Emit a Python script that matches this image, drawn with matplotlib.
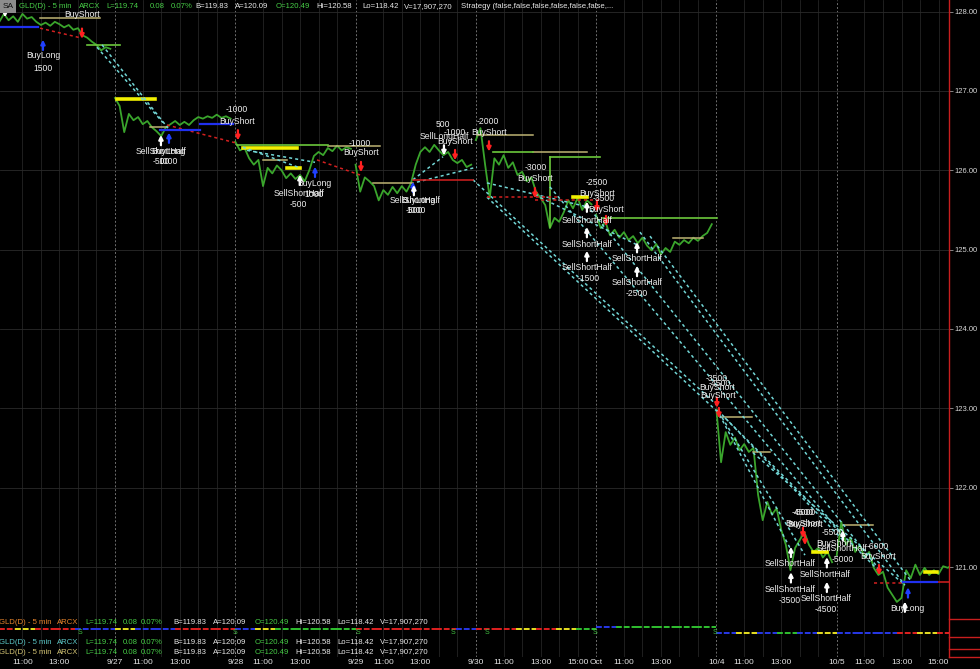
import matplotlib
matplotlib.use("Agg")
import matplotlib.pyplot as plt
from matplotlib.lines import Line2D
from matplotlib.patches import Rectangle

plt.rcParams['font.family'] = ['Liberation Sans', 'DejaVu Sans']

W, H = 980, 669
BARS = 78      # 5 min bars per session (9:30 - 16:00)
STEP = 3       # one close kept every 3 bars

# --- price data: GLD 5 min, one close every 15 min -------------------------
day_names = ['9/26', '9/27', '9/28', '9/29', '9/30', 'Oct', '10/4', '10/5']
close_0926 = [127.96, 127.87, 127.97, 127.89, 127.94, 127.87, 127.97, 127.91, 127.93, 127.87, 127.83, 127.86, 127.82,
              127.87, 127.84, 127.80, 127.83, 127.77, 127.79, 127.70, 127.67, 127.62, 127.58, 127.51, 127.55, 127.53]
close_0927 = [126.91, 126.81, 126.48, 126.71, 126.63, 126.67, 126.58, 126.62, 126.54, 126.49, 126.43, 126.54, 126.58,
              126.62, 126.57, 126.61, 126.57, 126.63, 126.67, 126.65, 126.68, 126.66, 126.70, 126.66, 126.68, 126.65]
close_0928 = [126.36, 126.25, 126.28, 126.15, 126.07, 126.13, 125.80, 126.03, 125.96, 126.06, 126.00, 125.90, 125.96,
              125.89, 125.94, 125.86, 126.00, 126.18, 126.23, 126.19, 126.28, 126.24, 126.31, 126.25, 126.29, 126.27]
close_0929 = [126.07, 125.73, 125.91, 125.86, 125.80, 125.62, 125.75, 125.69, 125.79, 125.71, 125.80, 125.73, 125.84,
              126.07, 126.23, 126.29, 126.23, 126.32, 126.25, 126.19, 126.23, 126.13, 126.09, 126.13, 126.04, 126.07]
close_0930 = [126.38, 126.53, 126.07, 125.65, 126.15, 126.07, 126.19, 126.03, 126.10, 125.94, 125.98, 125.86, 125.91,
              125.73, 125.65, 125.56, 125.27, 125.40, 125.35, 125.47, 125.62, 125.52, 125.65, 125.50, 125.62, 125.57]
close_1003 = [125.44, 125.27, 125.35, 125.18, 125.25, 125.15, 125.22, 125.12, 125.17, 125.08, 125.15, 125.05, 124.99,
              125.07, 124.94, 125.02, 124.97, 125.10, 125.06, 125.12, 125.08, 125.15, 125.11, 125.17, 125.21, 125.32]
close_1004 = [122.98, 122.32, 122.70, 122.54, 122.63, 122.47, 122.55, 122.45, 122.50, 121.91, 121.59, 121.82, 121.66,
              121.74, 121.47, 121.28, 120.96, 121.24, 121.34, 121.44, 121.28, 121.19, 121.24, 121.12, 121.19, 121.06]
close_1005 = [121.15, 121.57, 121.28, 121.37, 121.19, 121.28, 121.12, 121.19, 120.99, 120.90, 120.94, 120.74, 120.65,
              120.56, 120.61, 120.96, 120.86, 121.03, 120.90, 120.99, 120.90, 120.96, 120.91, 121.01, 120.99, 121.03]
sessions = [close_0926, close_0927, close_0928, close_0929, close_0930, close_1003, close_1004, close_1005]

price_ticks = [121, 122, 123, 124, 125, 126, 127, 128]

# time axis labels: (session, bar in session, text)
time_labels = [(0, 18, '11:00'), (0, 42, '13:00'),
               (1, 0, '9/27'), (1, 18, '11:00'), (1, 42, '13:00'),
               (2, 0, '9/28'), (2, 18, '11:00'), (2, 42, '13:00'),
               (3, 0, '9/29'), (3, 18, '11:00'), (3, 42, '13:00'),
               (4, 0, '9/30'), (4, 18, '11:00'), (4, 42, '13:00'), (4, 66, '15:00'),
               (5, 0, 'Oct'), (5, 18, '11:00'), (5, 42, '13:00'),
               (6, 0, '10/4'), (6, 18, '11:00'), (6, 42, '13:00'),
               (7, 0, '10/5'), (7, 18, '11:00'), (7, 42, '13:00'), (7, 66, '15:00')]

# --- strategy marks (bar index, price) -------------------------------------
short_bar = [56.6, 157.7, 237.5, 298.5, 320.5, 350.3, 390.5, 396.4, 468.3, 469.6, 524.1, 525.4, 573.4]
short_px = [127.72, 126.44, 126.04, 126.19, 126.30, 125.71, 125.54, 125.36, 123.07, 122.94, 121.43, 121.34, 120.96]
long_bar = [31.3, 113.0, 207.7, 271.2, 592.2]
long_px = [127.58, 126.41, 125.98, 125.79, 120.68]
cover_bar = [107.8, 197.9, 271.8, 384.0, 384.0, 384.0, 416.5, 416.5, 516.3, 516.3, 539.6, 539.6, 550.0, 590.2]
cover_px = [126.38, 125.88, 125.75, 125.54, 125.22, 124.92, 125.03, 124.73, 121.19, 120.87, 121.06, 120.75, 121.40,
            120.50]
sell_long_bar = [291.3, 6.7]
sell_long_px = [126.25, 127.99]

trade_labels = [
    (56.6, 127.96, 'BuyShort'), (31.3, 127.44, 'BuyLong'), (31.3, 127.28, '1500'),
    (107.8, 126.24, 'SellShortHalf'), (107.8, 126.11, '-500'), (112.4, 126.24, 'BuyLong'), (112.4, 126.11, '1000'),
    (157.1, 126.76, '-1000'), (157.1, 126.62, 'BuyShort'),
    (197.3, 125.71, 'SellShortHalf'), (196.7, 125.57, '-500'), (207.0, 125.83, 'BuyLong'), (207.0, 125.70, '1000'),
    (236.9, 126.34, '-1000'), (237.5, 126.22, 'BuyShort'),
    (272.5, 125.62, 'SellShortHalf'), (274.5, 125.62, 'BuyLong'), (271.9, 125.49, '-500'), (273.2, 125.49, '1000'),
    (290.7, 126.57, '500'), (291.3, 126.43, 'SellLongHalf'), (298.5, 126.48, '-1000'), (298.5, 126.36, 'BuyShort'),
    (319.8, 126.62, '-2000'), (320.5, 126.48, 'BuyShort'),
    (351.0, 126.04, '-3000'), (350.3, 125.90, 'BuyShort'),
    (390.5, 125.84, '-2500'), (390.5, 125.71, 'BuyShort'), (395.1, 125.65, '-3500'), (396.4, 125.51, 'BuyShort'),
    (384.0, 125.37, 'SellShortHalf'), (384.0, 125.07, 'SellShortHalf'), (384.0, 124.77, 'SellShortHalf'),
    (385.3, 124.63, '-1500'),
    (416.5, 124.89, 'SellShortHalf'), (416.5, 124.59, 'SellShortHalf'), (416.5, 124.45, '-2500'),
    (468.3, 123.38, '-3500'), (470.3, 123.31, '-4500'), (468.3, 123.26, 'BuyShort'), (469.0, 123.16, 'BuyShort'),
    (524.1, 121.69, '-4500'), (525.4, 121.69, '-5000'), (524.1, 121.55, 'BuyShort'), (525.4, 121.54, 'BuyShort'),
    (543.5, 121.43, '-5500'), (544.2, 121.30, 'BuyShort'), (549.4, 121.23, 'SellShortHalf'), (550.0, 121.09, '-5000'),
    (572.7, 121.26, '-6000'), (572.7, 121.13, 'BuyShort'),
    (515.7, 121.04, 'SellShortHalf'), (515.7, 120.72, 'SellShortHalf'), (515.7, 120.58, '-3500'),
    (538.4, 120.90, 'SellShortHalf'), (539.0, 120.60, 'SellShortHalf'), (539.0, 120.47, '-4500'),
    (591.5, 120.48, 'BuyLong'),
]

# trade connection lines (bar1, price1, bar2, price2)
cyan_segs = [(66.3, 127.55, 109.1, 126.60), (69.6, 127.58, 112.4, 126.53),
             (161.0, 126.29, 197.9, 126.03), (163.6, 126.25, 207.7, 126.10),
             (271.2, 125.88, 290.7, 126.17), (273.8, 125.85, 312.7, 126.04),
             (310.1, 125.88, 468.3, 123.04), (319.2, 125.66, 469.6, 122.94),
             (360.0, 125.79, 550.0, 121.40), (384.0, 125.56, 574.0, 120.96),
             (418.4, 125.22, 590.2, 120.77), (424.9, 125.17, 593.5, 120.84),
             (468.3, 122.98, 515.7, 121.24), (469.6, 122.95, 525.4, 121.15),
             (471.6, 122.92, 550.0, 121.34), (473.5, 122.88, 574.0, 120.94),
             (491.7, 122.44, 590.2, 120.77), (319.2, 125.84, 384.0, 125.54),
             (350.3, 125.69, 416.5, 125.06)]
red_dash_segs = [(29.4, 127.79, 55.3, 127.67), (111.7, 126.57, 157.1, 126.34), (209.0, 126.13, 236.9, 125.94),
                 (319.2, 125.66, 366.5, 125.66), (350.3, 125.62, 392.5, 125.62), (570.0, 120.80, 589.0, 120.80)]
red_solid_segs = [(271.2, 125.88, 310.1, 125.88), (611.0, 120.81, 618.8, 120.81)]
blue_segs = [(3.44, 127.80, 28.1, 127.80), (107.2, 126.51, 133.1, 126.51), (133.1, 126.58, 154.5, 126.58),
             (589.0, 120.81, 611.0, 120.81)]

# stop / target levels (bar1, bar2, price)
khaki_levels = [(29.4, 68.3, 127.92), (100.7, 111.7, 126.54), (216.1, 249.8, 126.31), (173.9, 189.5, 126.13),
                (245.3, 271.2, 125.84), (312.7, 349.0, 126.44), (349.0, 384.0, 126.23), (470.3, 491.0, 122.89),
                (491.7, 502.7, 122.45), (550.0, 569.5, 121.53), (439.8, 459.3, 125.14)]
yellow_levels = [(79.3, 103.9, 126.90), (161.0, 196.0, 126.28), (189.5, 197.9, 126.03), (375.0, 384.0, 125.66),
                 (530.6, 539.6, 121.19), (603.2, 611.0, 120.94)]
green_levels = [(59.9, 81.3, 127.58), (157.1, 216.1, 126.32), (323.1, 349.0, 126.23), (360.0, 392.5, 126.17),
                (394.4, 468.3, 125.40)]
green_steps = [(360.0, 126.17, 125.28)]

# indicator pane: level per session and colour per sixth of a session
ind_level = [10, 10, 10, 10, 10, 8, 14, 14]
ind_blocks = ['ryrrbb', 'ybbrrr', 'bygggg', 'rrrrrb', 'rryryg', 'bggggg', 'bybgby', 'bbbryr']
ind_signal_bar = [55.3, 155.8, 235.6, 297.2, 319.2, 389.2, 467.0]

# --- figure ----------------------------------------------------------------
fig = plt.figure(figsize=(W / 100, H / 100), dpi=100, facecolor='black')
ax = fig.add_axes([0, 50 / H, 949 / W, 619 / H], facecolor='black')
axi = fig.add_axes([0, 12 / H, 949 / W, 38 / H], facecolor='black', sharex=ax)

x_lo, x_hi = 3.44, 618.8
ax.set_xlim(x_lo, x_hi)
ax.set_ylim(120.345, 128.145)
axi.set_ylim(38, 0)

for a in (ax, axi):
    for s in ('top', 'left', 'bottom'):
        a.spines[s].set_visible(False)
    a.spines['right'].set_color('#c81e1e')
    a.spines['right'].set_linewidth(1.0)
    for k in range(len(day_names)):
        if k > 0:
            a.axvline(k * BARS, color='#6e6e6e', lw=0.7, ls=(0, (2, 2)), zorder=0)
        for h in (18, 30, 42, 54, 66):
            a.axvline(k * BARS + h, color='#242424', lw=0.6, zorder=0)

for v in price_ticks:
    ax.axhline(v, color='#2a2a2a', lw=0.6, zorder=0)

ax.set_yticks(price_ticks)
ax.set_yticklabels([f'{v:.2f}' for v in price_ticks])
ax.yaxis.tick_right()
ax.tick_params(axis='y', labelcolor='#d8d8d8', color='#9a9a9a', labelsize=5.5, length=3, width=0.6, pad=1)
ax.tick_params(axis='x', length=0, labelbottom=False)
axi.set_yticks([])

# price
for k, s in enumerate(sessions):
    xs = [k * BARS + STEP * j for j in range(len(s))]
    ax.plot(xs, s, color='#3aa52c', lw=1.3, zorder=3)

# levels
for b1, b2, p in khaki_levels:
    ax.plot([b1, b2], [p, p], color='#beb374', lw=1.1, zorder=4)
for b1, b2, p in green_levels:
    ax.plot([b1, b2], [p, p], color='#6cc83c', lw=1.2, zorder=4)
for b, p1, p2 in green_steps:
    ax.plot([b, b], [p1, p2], color='#6cc83c', lw=1.2, zorder=4)
for b1, b2, p in yellow_levels:
    ax.plot([b1, b2], [p, p], color='#f2f000', lw=2.6, zorder=5)

# trade lines
for b1, p1, b2, p2 in cyan_segs:
    ax.plot([b1, b2], [p1, p2], color='#72d6d6', lw=1.1, ls=(0, (2, 2)), zorder=5)
for b1, p1, b2, p2 in red_dash_segs:
    ax.plot([b1, b2], [p1, p2], color='#d42020', lw=1.1, ls=(0, (2, 2)), zorder=5)
for b1, p1, b2, p2 in red_solid_segs:
    ax.plot([b1, b2], [p1, p2], color='#d42020', lw=1.1, zorder=5)
for b1, p1, b2, p2 in blue_segs:
    ax.plot([b1, b2], [p1, p2], color='#2030f0', lw=1.6, zorder=5)


def arrow(b, p, color, up):
    half = 0.065
    tail, tip = (p - half, p + half) if up else (p + half, p - half)
    ax.annotate('', xy=(b, tip), xytext=(b, tail),
                arrowprops=dict(arrowstyle='-|>', color=color, lw=1.6, mutation_scale=6,
                                shrinkA=0, shrinkB=0), zorder=7)


for b, p in zip(short_bar, short_px):
    arrow(b, p, '#ff2020', False)
for b, p in zip(long_bar, long_px):
    arrow(b, p, '#2040ff', True)
for b, p in zip(cover_bar, cover_px):
    arrow(b, p, 'white', True)
for b, p in zip(sell_long_bar, sell_long_px):
    arrow(b, p, 'white', False)

for b, p, t in trade_labels:
    ax.text(b, p, t, color='#f0f0f0', fontsize=6.2, ha='center', va='center', zorder=8)

# indicator pane
ind_cols = {'r': '#e02020', 'b': '#2838e8', 'g': '#30c030', 'y': '#e8e020'}
for k, blocks in enumerate(ind_blocks):
    for i, c in enumerate(blocks):
        b0 = k * BARS + i * 13
        axi.plot([b0, b0 + 13], [ind_level[k], ind_level[k]], color=ind_cols[c], lw=1.4,
                 ls=(0, (3, 1)), zorder=3)
for b in ind_signal_bar:
    axi.text(b, 14, 'S', color='#40c040', fontsize=5, ha='center', va='center')

tick_pos = [k * BARS + bar for k, bar, _ in time_labels]
axi.set_xticks(tick_pos)
axi.set_xticklabels([t for _, _, t in time_labels])
axi.tick_params(axis='x', length=0, labelsize=6, labelcolor='#e4e4e4', pad=1.2)
axi.set_xlim(x_lo, x_hi)

# right-hand pane separators
for ypx in (619, 637, 649, 657):
    fig.add_artist(Line2D([949 / W, 1], [1 - ypx / H, 1 - ypx / H], color='#c81e1e', lw=1.0))

# header / pane titles
green_t, white_t = '#46cc46', '#e8e8e8'
quote = [('L=119.74', 0, green_t), ('0.08', 1, green_t), ('0.07%', 2, green_t), ('B=119.83', 3, white_t),
         ('A=120.09', 4, white_t), ('O=120.49', 5, green_t), ('Hi=120.58', 6, white_t), ('Lo=118.42', 7, white_t),
         ('V=17,907,270', 8, white_t)]
top_x = [19, 79, 106, 150, 171, 195, 235, 276, 316, 362, 404]
row_x = [-1, 57, 85, 123, 141, 173, 213, 255, 295, 337, 380]
FS = 5.6

fig.add_artist(Rectangle((0, 1 - 13 / H), 16 / W, 13 / H, transform=fig.transFigure,
                         facecolor='#8c8c8c', edgecolor='none'))
fig.text(8 / W, 1 - 6.8 / H, 'SA', color='#101010', fontsize=6, ha='center', va='center')


def title_row(xs, ypx, name_col):
    y = 1 - ypx / H
    fig.text(xs[0] / W, y, 'GLD(D) - 5 min', color=name_col, fontsize=FS, va='center')
    fig.text(xs[1] / W, y, 'ARCX', color=name_col, fontsize=FS, va='center')
    for t, i, c in quote:
        fig.text(xs[i + 2] / W, y, t, color=c, fontsize=FS, va='center')


title_row(top_x, 6.8, green_t)
fig.text(461 / W, 1 - 6.8 / H, 'Strategy (false,false,false,false,false,false,...', color=white_t,
         fontsize=FS, va='center')
title_row(row_x, 622, '#e8842c')
title_row(row_x, 642, '#5cc8c8')
title_row(row_x, 652, '#d4c474')

fig.savefig('out.png', dpi=100, facecolor='black')
